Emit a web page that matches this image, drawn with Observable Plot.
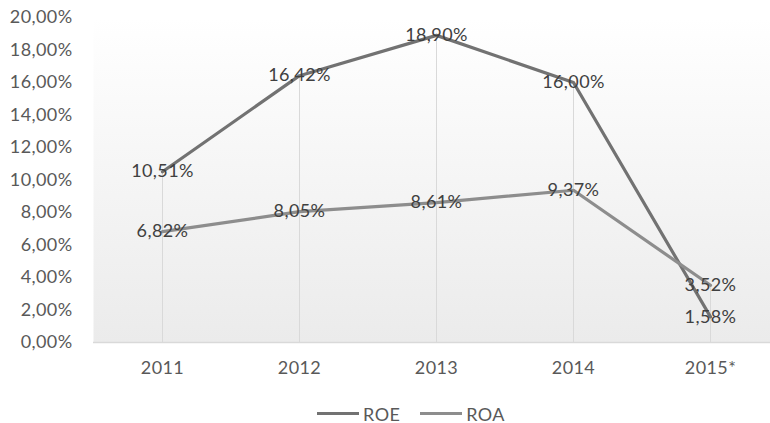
<!DOCTYPE html>
<html>
<head>
<meta charset="utf-8">
<script src="https://cdn.jsdelivr.net/npm/d3@7"></script>
<script src="https://cdn.jsdelivr.net/npm/@observablehq/plot@0.6"></script>
<style>
  html, body { margin: 0; padding: 0; background: #fff; }
  #chart { width: 770px; font-family: Lato, "Open Sans", sans-serif; }
  .legend { display: flex; justify-content: center; align-items: center; height: 43px; padding-top: 12px; gap: 20px; font-size: 18px; color: #595959; margin-left: 52px; letter-spacing: 0.4px; }
  .legend span.item { display: flex; align-items: center; gap: 4px; }
  .legend span.sw { display: inline-block; width: 42px; height: 3px; }
</style>
</head>
<body>
<div id="chart"></div>
<script>
const years = ["2011", "2012", "2013", "2014", "2015*"];
const roe = [10.51, 16.42, 18.90, 16.00, 1.58];
const roa = [6.82, 8.05, 8.61, 9.37, 3.52];
const yTicks = [0, 2, 4, 6, 8, 10, 12, 14, 16, 18, 20];
const seriesNames = ["ROE", "ROA"];
const seriesColors = ["#727272", "#8d8d8d"];

const fmt = v => v.toFixed(2).replace(".", ",") + "%";

const rows = [];
years.forEach((y, i) => {
  rows.push({year: y, value: roe[i], series: "ROE"});
  rows.push({year: y, value: roa[i], series: "ROA"});
});
const drops = years.map((y, i) => ({year: y, top: Math.max(roe[i], roa[i])}));

const plot = Plot.plot({
  width: 770,
  height: 380,
  marginTop: 17,
  marginBottom: 38,
  marginLeft: 93,
  marginRight: 0,
  style: {fontFamily: "Lato, 'Open Sans', sans-serif", fontSize: "18px", color: "#595959", background: "transparent", letterSpacing: "0.4px"},
  x: {type: "point", domain: years, range: [162, 710], padding: 0, label: null},
  y: {domain: [0, 20], ticks: yTicks, tickFormat: fmt, label: null},
  color: {domain: seriesNames, range: seriesColors},
  marks: [
    Plot.frame({fill: "url(#bggrad)", stroke: null}),
    Plot.ruleX(drops, {x: "year", y1: 0, y2: "top", stroke: "#d9d9d9", strokeWidth: 1}),
    Plot.ruleY([0], {stroke: "#d9d9d9", strokeWidth: 1.5}),
    Plot.axisY({ticks: yTicks, tickFormat: fmt, tickSize: 0, tickPadding: 21, fontSize: 18, fill: "#595959"}),
    Plot.axisX({tickSize: 0, tickPadding: 19, fontSize: 18, fill: "#595959"}),
    Plot.line(rows, {x: "year", y: "value", z: "series", stroke: "series", strokeWidth: 3.2, curve: "linear"}),
    Plot.text(rows, {x: "year", y: "value", text: d => fmt(d.value), fill: "#404040", fontSize: 18})
  ]
});

// gradient background definition
const svg = d3.select(plot);
const defs = svg.insert("defs", ":first-child");
const g = defs.append("linearGradient").attr("id", "bggrad").attr("x1", 0).attr("y1", 0).attr("x2", 0).attr("y2", 1);
g.append("stop").attr("offset", "0%").attr("stop-color", "#ffffff");
g.append("stop").attr("offset", "100%").attr("stop-color", "#ebebeb");

const chart = document.getElementById("chart");
chart.appendChild(plot);

const legend = document.createElement("div");
legend.className = "legend";
seriesNames.forEach((name, i) => {
  const item = document.createElement("span");
  item.className = "item";
  const sw = document.createElement("span");
  sw.className = "sw";
  sw.style.background = seriesColors[i];
  item.appendChild(sw);
  item.appendChild(document.createTextNode(name));
  legend.appendChild(item);
});
chart.appendChild(legend);
</script>
</body>
</html>
